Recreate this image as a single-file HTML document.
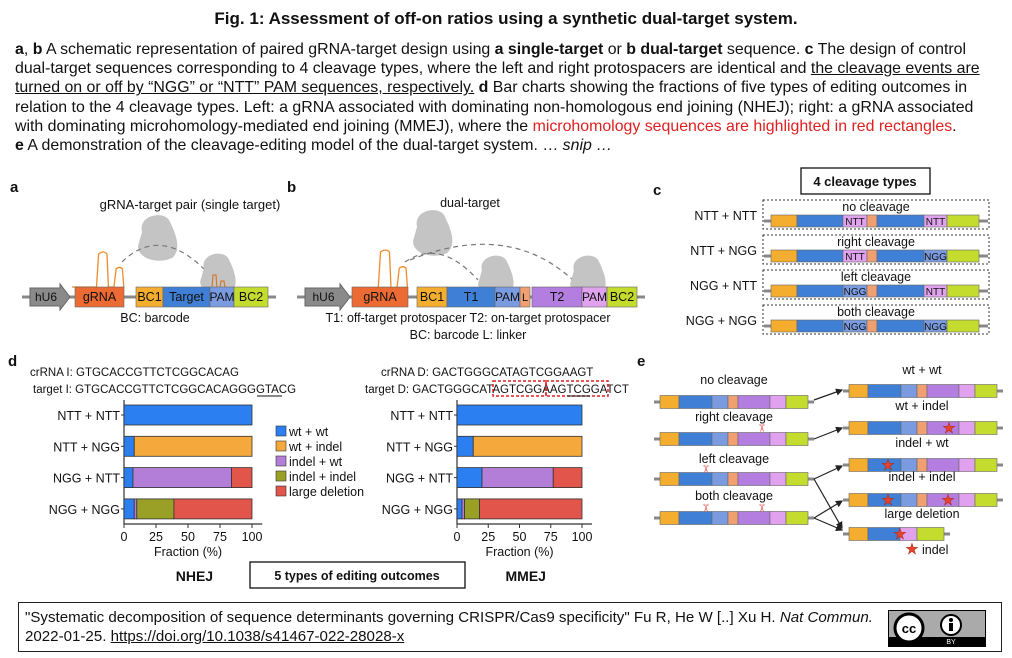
<!DOCTYPE html>
<html><head><meta charset="utf-8">
<style>
body{margin:0;width:1012px;height:658px;background:#fff;font-family:"Liberation Sans",Arial,sans-serif;position:relative;overflow:hidden;color:#111}
.t{position:absolute;white-space:nowrap}
#title{left:0;width:1012px;text-align:center;top:9px;font-weight:bold;font-size:17px}
#cap{left:15px;top:40px;font-size:15.9px;line-height:19.2px;white-space:nowrap}
#cap .r{color:#e02020}
#foot{position:absolute;left:18px;top:602px;width:982px;height:48px;border:1.5px solid #222}
#foot .txt{position:absolute;left:6px;top:5px;font-size:15.1px;line-height:19px;white-space:nowrap}
#cc{position:absolute;left:869px;top:7px;width:96px;height:35px;background:#aaa;border:1px solid #000}
svg{position:absolute;left:0;top:0}
</style></head><body>
<div class="t" id="title">Fig. 1: Assessment of off-on ratios using a synthetic dual-target system.</div>
<div class="t" id="cap"><b>a</b>, <b>b</b> A schematic representation of paired gRNA-target design using <b>a single-target</b> or <b>b dual-target</b> sequence. <b>c</b> The design of control<br>dual-target sequences corresponding to 4 cleavage types, where the left and right protospacers are identical and <u>the cleavage events are</u><br><u>turned on or off by “NGG” or “NTT” PAM sequences, respectively.</u> <b>d</b> Bar charts showing the fractions of five types of editing outcomes in<br>relation to the 4 cleavage types. Left: a gRNA associated with dominating non-homologous end joining (NHEJ); right: a gRNA associated<br>with dominating microhomology-mediated end joining (MMEJ), where the <span class="r">microhomology sequences are highlighted in red rectangles</span>.<br><b>e</b> A demonstration of the cleavage-editing model of the dual-target system. … <i>snip …</i></div>

<svg id="fig" width="1012" height="658" font-family="Liberation Sans, Arial, sans-serif"></svg>

<div id="foot">
<div class="txt">"Systematic decomposition of sequence determinants governing CRISPR/Cas9 specificity" Fu R, He W [..] Xu H. <i>Nat Commun.</i><br>2022-01-25. <u>https://doi.org/10.1038/s41467-022-28028-x</u></div>
<div id="cc">
<svg width="96" height="35" style="position:absolute;left:0;top:0"><rect x="0" y="26" width="96" height="9" fill="#000"/><circle cx="20" cy="17" r="14" fill="#fff" stroke="#000" stroke-width="3"/><text x="20" y="22" font-size="13" font-weight="bold" text-anchor="middle">cc</text><circle cx="62" cy="14" r="10" fill="#fff" stroke="#000" stroke-width="2"/><circle cx="62" cy="9" r="2" fill="#000"/><rect x="60" y="12" width="4" height="8" fill="#000"/><text x="62" y="33" font-size="7" fill="#fff" text-anchor="middle">BY</text></svg>
</div>
</div>

<script>
// ---- chart data (panel d) ----
const rowLabels = ["NTT + NTT","NTT + NGG","NGG + NTT","NGG + NGG"];
const outcomeNames = ["wt + wt","wt + indel","indel + wt","indel + indel","large deletion"];
const nhejWtWt      = [100, 8, 7, 8];
const nhejWtIndel   = [0, 92, 0, 0];
const nhejIndelWt   = [0, 0, 77, 2];
const nhejIndelIndel= [0, 0, 0, 29];
const nhejLargeDel  = [0, 0, 16, 61];
const mmejWtWt      = [100, 13, 20, 4];
const mmejWtIndel   = [0, 87, 0, 0];
const mmejIndelWt   = [0, 0, 57, 2];
const mmejIndelIndel= [0, 0, 0, 12];
const mmejLargeDel  = [0, 0, 23, 82];
const xTicks = [0,25,50,75,100];

const NS="http://www.w3.org/2000/svg";
const svg=document.getElementById('fig');
function mk(tag,attrs,parent){const e=document.createElementNS(NS,tag);for(const k in attrs)e.setAttribute(k,attrs[k]);(parent||svg).appendChild(e);return e;}
function tx(x,y,s,size,opt){opt=opt||{};const e=mk('text',{x:x,y:y,'font-size':size,'text-anchor':opt.a||'start','font-weight':opt.b?'bold':'normal',fill:opt.f||'#111'});e.textContent=s;return e;}

const C={or:'#f5ad2f',bl:'#3f80d6',lb:'#7b9be0',pu:'#b47ee0',pk:'#e0a2ee',li:'#c3dc2e',gr:'#ec6a34',ln:'#f0a070',gy:'#8a8a8a'};
const barCols=['#2b7ff0','#f5a93c','#b27ed8','#9aa026','#e1554a'];

[['a',10,192],['b',287,192],['c',653,195],['d',8,366],['e',637,366]].forEach(p=>{
  const t=tx(p[1],p[2],p[0],15,{b:true});
  
  
});

function construct(y,h,segs,x0,x1,name){
  const g=mk('g',{});
  
  
  mk('line',{x1:x0,y1:y,x2:x1,y2:y,stroke:'#888','stroke-width':3},g);
  segs.forEach(s=>{
    mk('rect',{x:s[0],y:y-h/2,width:s[1]-s[0],height:h,fill:s[2],stroke:'#666','stroke-width':0.6},g);
    if(s[3]){const t=tx((s[0]+s[1])/2,y+(s[4]||4),s[3],s[5]||12,{a:'middle'});g.appendChild(t);}
  });
  return g;
}
function blob(cx,cy,s){
  const g=mk('g',{});
  
  
  mk('path',{d:`M${cx-18*s},${cy-8*s} C${cx-22*s},${cy-26*s} ${cx+6*s},${cy-30*s} ${cx+10*s},${cy-18*s} C${cx+16*s},${cy-6*s} ${cx+22*s},${cy+10*s} ${cx+12*s},${cy+18*s} C${cx},${cy+24*s} ${cx-22*s},${cy+20*s} ${cx-22*s},${cy+6*s} Z`,fill:'#c4c4c4'},g);
  return g;
}
function squig(x,y,w,hh){
  const p=`M${x},${y} L${x+w*0.35},${y} L${x+w*0.38},${y-hh} Q${x+w*0.45},${y-hh-4} ${x+w*0.5},${y-hh} L${x+w*0.52},${y} L${x+w*0.6},${y} L${x+w*0.63},${y-hh*0.55} Q${x+w*0.68},${y-hh*0.55-3} ${x+w*0.72},${y-hh*0.55} L${x+w*0.74},${y}`;
  const e=mk('path',{d:p,fill:'none',stroke:'#f08a2a','stroke-width':1.3});
  
  
}
function hu6(x0,x1,y){
  const e=mk('path',{d:`M${x0},${y-9} L${x1-10},${y-9} L${x1-10},${y-13} L${x1},${y} L${x1-10},${y+13} L${x1-10},${y+9} L${x0},${y+9} Z`,fill:'#8a8a8a',stroke:'#666'});
  
  
  tx((x0+x1)/2-4,y+4,'hU6',12,{a:'middle'});
}

// ---- panel a ----
tx(190,209,'gRNA-target pair (single target)',13,{a:'middle'});
blob(160,240,1);
squig(72,287,70,33);
mk('path',{d:'M122,262 Q160,225 205,270',fill:'none',stroke:'#777','stroke-dasharray':'5,4','stroke-width':1.2});
blob(220,276,0.9);
mk('path',{d:'M200,288 L212,288 L213,275 L216,275 L217,288 L220,288 L221,281 L224,281 L225,288',fill:'none',stroke:'#d07a30','stroke-width':1.2});
construct(297,20,[[75,124,C.gr,'gRNA',4,12.5],[136,163,C.or,'BC1',4,12.5],[163,210,C.bl,'Target',4,12.5],[210,234,C.lb,'PAM',4,12],[234,268,C.li,'BC2',4,12.5]],22,276,'single-target-construct');
hu6(30,70,297);
tx(155,322,'BC: barcode',12.5,{a:'middle'});

// ---- panel b ----
tx(470,207,'dual-target',12.5,{a:'middle'});
blob(435,235,1);
squig(352,288,75,36);
mk('path',{d:'M405,262 Q440,238 478,280',fill:'none',stroke:'#777','stroke-dasharray':'5,4','stroke-width':1.2});
mk('path',{d:'M410,260 Q510,220 575,282',fill:'none',stroke:'#777','stroke-dasharray':'5,4','stroke-width':1.2});
blob(498,278,0.9);blob(590,278,0.9);
construct(297,20,[[352,408,C.gr,'gRNA',4,12.5],[417,447,C.or,'BC1',4,12.5],[447,495,C.bl,'T1',4,12.5],[495,520,C.lb,'PAM',4,12],[520,530,C.ln,'L',4,11],[532,582,C.pu,'T2',4,12.5],[582,607,C.pk,'PAM',4,12],[607,637,C.li,'BC2',4,12.5]],297,645,'dual-target-construct');
hu6(305,350,297);
tx(468,322,'T1: off-target protospacer T2: on-target protospacer',12.5,{a:'middle'});
tx(468,339,'BC: barcode L: linker',12.5,{a:'middle'});

// ---- panel c ----
const ct=mk('rect',{x:801,y:168,width:129,height:26,fill:'#fff',stroke:'#111','stroke-width':1.3});


tx(865,186,'4 cleavage types',13,{a:'middle',b:true});
const cRows=[['NTT + NTT','no cleavage','NTT','NTT'],['NTT + NGG','right cleavage','NTT','NGG'],['NGG + NTT','left cleavage','NGG','NTT'],['NGG + NGG','both cleavage','NGG','NGG']];
cRows.forEach((r,i)=>{
  const top=200+i*35;
  const b=mk('rect',{x:763,y:top,width:226,height:29,fill:'none',stroke:'#333','stroke-dasharray':'2,2'});
  
  
  tx(757,top+20,r[0],12.5,{a:'end'});
  tx(876,top+11,r[1],12.5,{a:'middle'});
  const cy=top+21;
  construct(cy,12,[[771,797,C.or],[797,843,C.bl],[843,867,r[2]=='NTT'?C.pk:C.lb,r[2],4,10],[867,877,C.ln],[877,924,C.bl],[924,947,r[3]=='NTT'?C.pk:C.lb,r[3],4,10],[947,979,C.li]],764,988,'control-construct');
});

// ---- panel e ----
function scissors(x,y){const t=tx(x,y,'✂',11,{a:'middle',f:'#e05555'});t.setAttribute('transform',`rotate(90 ${x} ${y-4})`);}
function star(x,y){const t=tx(x,y+5,'★',15,{a:'middle',f:'#e8432a'});t.setAttribute('stroke','#a02010');t.setAttribute('stroke-width','0.4');}
const leftSegs=[[660,679,C.or],[679,712,C.bl],[712,728,C.lb],[728,738,C.ln],[738,770,C.pu],[770,786,C.pk],[786,808,C.li]];
const eL=[['no cleavage',384,402],['right cleavage',421,439],['left cleavage',463,479],['both cleavage',500,518]];
eL.forEach((r,i)=>{tx(734,r[1],r[0],12.5,{a:'middle'});construct(r[2],13,leftSegs,654,814,'outcome-source-construct');});
scissors(762,432);scissors(706,473);scissors(706,512);scissors(762,512);
const rightSegs=leftSegs.map(s=>[s[0]+189,s[1]+189,s[2]]);
const eR=[['wt + wt',374,391],['wt + indel',410,428],['indel + wt',447,465],['indel + indel',481,500]];
eR.forEach(r=>{tx(922,r[1],r[0],12.5,{a:'middle'});construct(r[2],13,rightSegs,843,1003,'outcome-construct');});
star(949,428);star(888,465);star(888,500);star(948,500);
tx(922,518,'large deletion',12.5,{a:'middle'});
construct(534,13,[[849,868,C.or],[868,900,C.bl],[900,917,C.pk],[917,944,C.li]],843,950,'large-deletion-construct');
star(900,534);
star(912,549);tx(922,554,'indel',12.5);
[[814,400,842,390],[814,439,842,428],[814,479,842,466],[814,518,842,501],[814,518,842,530],[814,479,842,528]].forEach(a=>{
  const l=mk('line',{x1:a[0],y1:a[1],x2:a[2],y2:a[3],stroke:'#222','stroke-width':1.2,'marker-end':'url(#ah)'});
  
  
});
const defs=mk('defs',{});const mkr=mk('marker',{id:'ah',markerWidth:6,markerHeight:6,refX:5,refY:3,orient:'auto'},defs);mk('path',{d:'M0,0 L6,3 L0,6 Z',fill:'#222'},mkr);

// ---- panel d sequences ----
tx(30,376,'crRNA I: GTGCACCGTTCTCGGCACAG',11.5);
tx(33,393,'target I: GTGCACCGTTCTCGGCACAGGGGTACG',11.5);
mk('line',{x1:257,y1:396,x2:282,y2:396,stroke:'#111','stroke-width':1});
tx(381,376,'crRNA D: GACTGGGCATAGTCGGAAGT',11.5);
tx(365,393,'target D: GACTGGGCATAGTCGGAAGTCGGATCT',11.5);
mk('rect',{x:493,y:381,width:53,height:15,fill:'none',stroke:'#e02020','stroke-dasharray':'3,2','stroke-width':1.5});
mk('rect',{x:546,y:381,width:62,height:15,fill:'none',stroke:'#e02020','stroke-dasharray':'3,2','stroke-width':1.5});
mk('line',{x1:567,y1:396,x2:590,y2:396,stroke:'#111'});

// ---- bar charts ----
function barChart(x0,x100,series,name,title){
  const g=mk('g',{});
  
  
  const xs=v=>x0+(x100-x0)*v/100;
  const rowY=i=>415+i*31.3;
  mk('line',{x1:x0,y1:400,x2:x0,y2:524,stroke:'#333','stroke-width':1.2},g);
  mk('line',{x1:x0,y1:524,x2:xs(108),y2:524,stroke:'#333','stroke-width':1.2},g);
  xTicks.forEach(t=>{mk('line',{x1:xs(t),y1:524,x2:xs(t),y2:528,stroke:'#333'},g);g.appendChild(tx(xs(t),541,String(t),12.5,{a:'middle'}));});
  g.appendChild(tx(xs(50),556,'Fraction (%)',12.5,{a:'middle'}));
  g.appendChild(tx(xs(55),581,title,14,{a:'middle',b:true}));
  rowLabels.forEach((lab,i)=>{
    g.appendChild(tx(x0-4,rowY(i)+5,lab,12.5,{a:'end'}));
    mk('line',{x1:x0-3,y1:rowY(i),x2:x0,y2:rowY(i),stroke:'#333'},g);
    let acc=0;
    series.forEach((arr,k)=>{
      const v=arr[i];
      if(v>0){
        const r=mk('rect',{x:xs(acc),y:rowY(i)-10,width:xs(acc+v)-xs(acc),height:20,fill:barCols[k],stroke:'#333','stroke-width':0.8},g);
        
        
      }
      acc+=v;
    });
  });
}
barChart(124,252,[nhejWtWt,nhejWtIndel,nhejIndelWt,nhejIndelIndel,nhejLargeDel],'nhej-bar-chart','NHEJ');
barChart(457,582,[mmejWtWt,mmejWtIndel,mmejIndelWt,mmejIndelIndel,mmejLargeDel],'mmej-bar-chart','MMEJ');

outcomeNames.forEach((n,k)=>{
  const y=431+k*15;
  const r=mk('rect',{x:276,y:y-5,width:10,height:10,fill:barCols[k],stroke:'#333','stroke-width':0.6});
  
  
  tx(289,y+5,n,12.5);
});
const lb=mk('rect',{x:250,y:562,width:215,height:26,fill:'#fff',stroke:'#111','stroke-width':1.3});


tx(357,580,'5 types of editing outcomes',12.5,{a:'middle',b:true});
</script>
</body></html>
